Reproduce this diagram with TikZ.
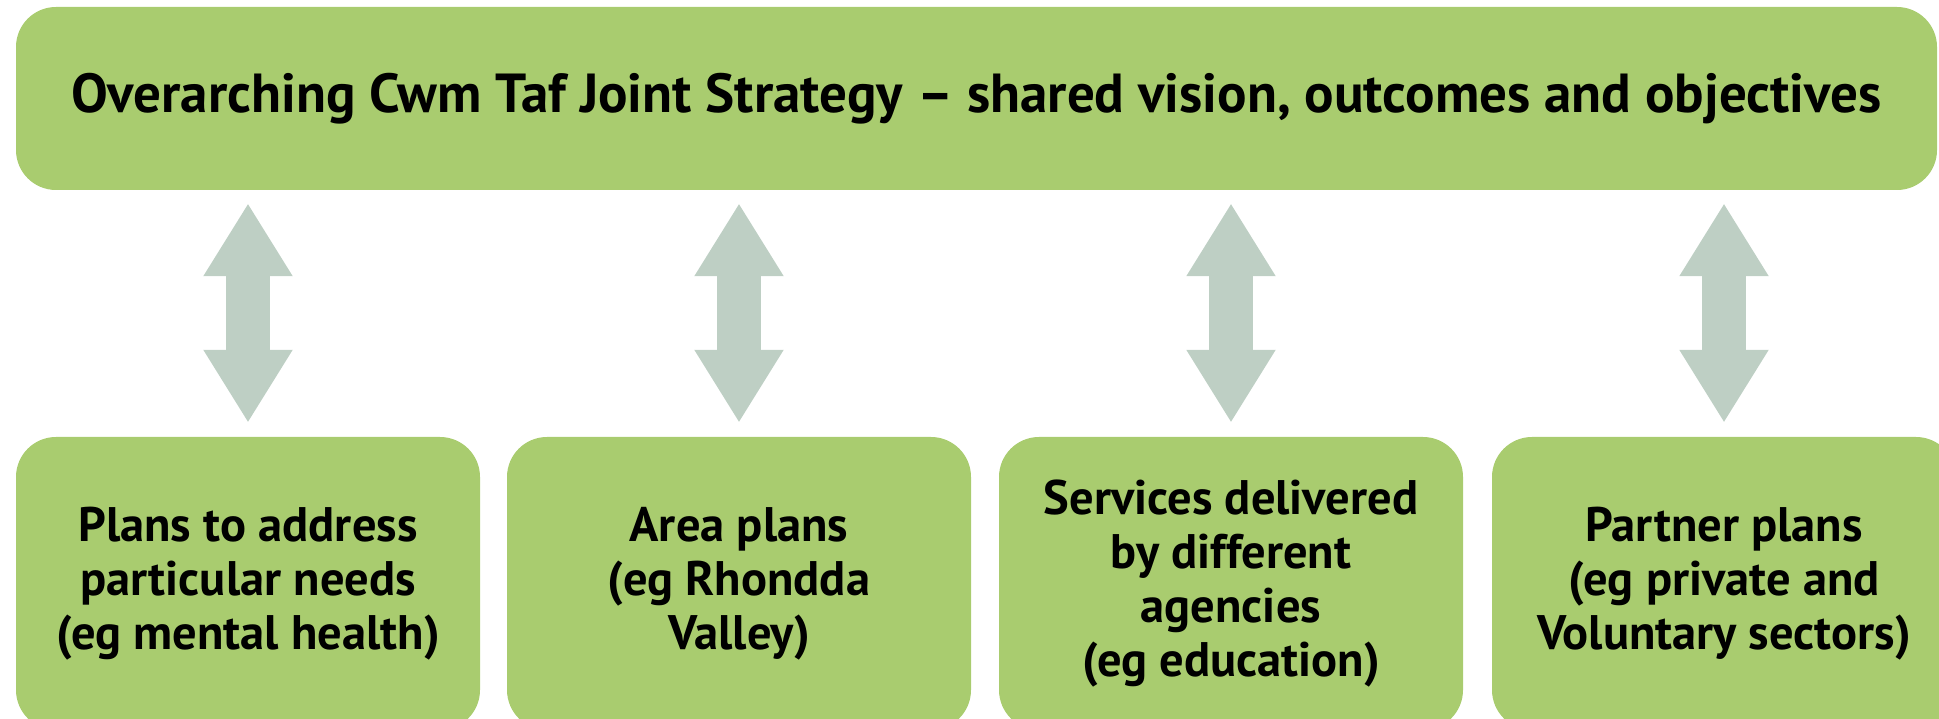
\documentclass[tikz,border=0pt]{standalone}
\usepackage{fontspec}
\setmainfont{PT Sans}
\usetikzlibrary{arrows.meta}
\definecolor{boxgreen}{RGB}{169,204,111}
\definecolor{arrowgrey}{RGB}{190,207,196}
\tikzset{
  topbox/.style={fill=boxgreen, rounded corners=40pt, minimum width=1921pt, minimum height=183pt, inner sep=0pt, font=\fontsize{55}{60}\selectfont\bfseries},
  planbox/.style={fill=boxgreen, rounded corners=40pt, minimum width=464pt, minimum height=293pt, inner sep=0pt, align=center, font=\fontsize{48.5}{54}\selectfont\bfseries},
  dblarrow/.style={draw=arrowgrey, line width=44pt, {Triangle[length=73pt,width=84pt]}-{Triangle[length=73pt,width=84pt]}, shorten <=13pt, shorten >=14pt}
}
\begin{document}
\begin{tikzpicture}[x=1pt,y=1pt]
\useasboundingbox (0,0) rectangle (1939,718);
\clip (0,0) rectangle (1939,718);
\node[topbox] (top) at (976.5,619.5) {Overarching Cwm Taf Joint Strategy -- shared vision, outcomes and objectives};
\node[planbox] (b1) at (248,134.5) {Plans to address\\particular needs\\(eg mental health)};
\node[planbox] (b2) at (739,134.5) {Area plans\\(eg Rhondda\\Valley)};
\node[planbox] (b3) at (1231,134.5) {Services delivered\\by different\\agencies\\(eg education)};
\node[planbox] (b4) at (1724,134.5) {Partner plans\\(eg private and\\Voluntary sectors)};
\foreach \b in {b1,b2,b3,b4}{
  \draw[dblarrow] (top.south -| \b.north) -- (\b.north);
}
\end{tikzpicture}
\end{document}
